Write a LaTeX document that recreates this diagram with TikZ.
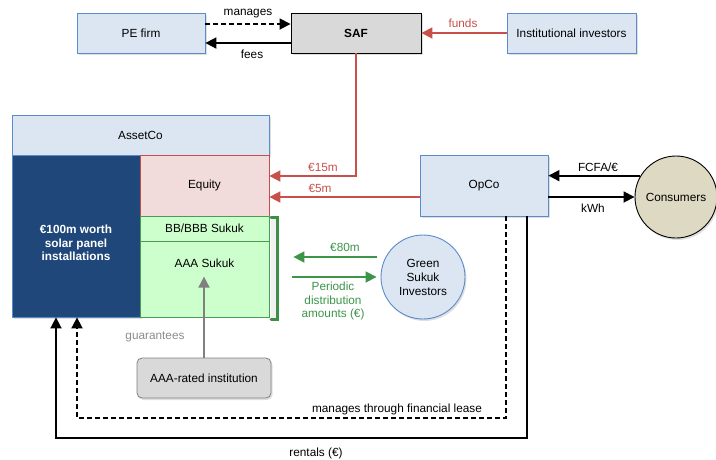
\documentclass[tikz,border=0pt]{standalone}
\usepackage{fontspec}
\setmainfont{Liberation Sans}
\usetikzlibrary{arrows.meta,shadows,calc}
\definecolor{lb}{HTML}{DCE6F2}
\definecolor{lbb}{HTML}{5B8BC9}
\definecolor{db}{HTML}{1F477A}
\definecolor{eqf}{HTML}{F2DCDB}
\definecolor{eqb}{HTML}{C0504D}
\definecolor{gf}{HTML}{CCFFCC}
\definecolor{gb}{HTML}{4B9C53}
\definecolor{gbr}{HTML}{3C8F45}
\definecolor{cons}{HTML}{DDD9C3}
\definecolor{redarr}{HTML}{C8504A}
\definecolor{grnarr}{HTML}{3C9548}
\definecolor{gtxt}{HTML}{8C8C8C}
\tikzset{
  every node/.style={font=\fontsize{11.8}{14}\selectfont, inner sep=0pt, align=center},
  shd/.style={drop shadow={opacity=0.25, shadow xshift=1.5pt, shadow yshift=-2pt}},
  bluebox/.style={draw=lbb, fill=lb, line width=0.8pt, shd},
  blk/.style={line width=1.8pt, -{Triangle[length=11pt,width=11pt]}},
  dsh/.style={dash pattern=on 5pt off 3pt},
  redl/.style={draw=redarr, line width=1.8pt, -{Triangle[length=11pt,width=11pt]}},
  grnl/.style={draw=grnarr, line width=1.8pt, -{Triangle[length=11pt,width=11pt]}},
  gryl/.style={draw=gray, line width=1.8pt, -{Triangle[length=11pt,width=11pt]}}
}
\begin{document}
\begin{tikzpicture}[x=1pt,y=-1pt]
\useasboundingbox (0,0) rectangle (716,459);
% top row
\node[bluebox, minimum width=128pt, minimum height=40pt] (pe) at (141,33) {PE firm};
\node[draw=black, fill=black!15, line width=0.9pt, shd, minimum width=130pt, minimum height=40pt, font=\fontsize{11.8}{14}\selectfont\bfseries] (saf) at (356,33) {SAF};
\node[bluebox, minimum width=129pt, minimum height=40pt] (inst) at (571.5,33) {Institutional investors};
% AssetCo
\node[bluebox, minimum width=257pt, minimum height=40pt] (asset) at (140.5,135) {AssetCo};
\node[draw=lbb, fill=db, line width=0.8pt, shd, minimum width=128pt, minimum height=162pt] (solar) at (76,236) {};
\node[text=white, font=\fontsize{11.8}{13.5}\selectfont\bfseries] (solartxt) at (76,243) {€100m worth\\solar panel\\installations};
\node[draw=eqb, fill=eqf, line width=0.8pt, minimum width=129pt, minimum height=61pt] (equity) at (204.5,185.5) {Equity};
\node[draw=gb, fill=gf, line width=0.8pt, minimum width=129pt, minimum height=25pt] (bb) at (204.5,228.5) {BB/BBB Sukuk};
\node[draw=gb, fill=gf, line width=0.8pt, minimum width=129pt, minimum height=76pt] (aaa) at (204.5,279) {};
\node (aaatxt) at (204.5,263) {AAA Sukuk};
\draw[draw=gbr, line width=3pt, line cap=round, fill=black!5] (271,217) -- (277,217) -- (277,319) -- (271,319);
% OpCo and consumers
\node[bluebox, minimum width=128pt, minimum height=61pt] (opco) at (484,185.5) {OpCo};
\node[circle, draw=black, fill=cons, line width=0.9pt, shd, minimum size=82pt] (cons) at (676,197) {Consumers};
\node[circle, draw=lbb, fill=lb, line width=0.9pt, shd, minimum size=84pt] (gsi) at (423,277) {Green\\Sukuk\\Investors};
\node[draw=gray, fill=black!15, line width=0.8pt, rounded corners=5pt, shd, minimum width=134pt, minimum height=40pt] (aaainst) at (204,378) {AAA-rated institution};
% top arrows
\draw[blk, dsh] (pe.east |- 0,24) -- (saf.west |- 0,24);
\node (lmanages) at (248,14) {manages};
\draw[blk] (saf.west |- 0,43) -- (pe.east |- 0,43);
\node (lfees) at (252,54) {fees};
\draw[redl] (inst.west) -- (saf.east);
\node[text=redarr] (lfunds) at (463,23) {funds};
% to equity
\draw[redl] (saf.south) |- (equity.east |- 0,176);
\node[text=redarr] (l15) at (323,167) {€15m};
\draw[redl] (opco.west |- 0,197) -- (equity.east |- 0,197);
\node[text=redarr] (l5) at (320,188) {€5m};
% consumers
\draw[blk] (cons.149) -- (opco.east |- cons.149);
\node (lfcfa) at (598,167) {FCFA/€};
\draw[blk] (opco.east |- cons.west) -- (cons.west);
\node (lkwh) at (593,208) {kWh};
% green sukuk
\draw[grnl] ($(gsi.west)+(-4,-20)$) -- ($(aaa.east)+(24,-22)$);
\node[text=grnarr] (l80) at (345,247) {€80m};
\draw[grnl] ($(aaa.east)+(23,-2)$) -- ($(gsi.west)+(-4,0)$);
\node[text=grnarr, font=\fontsize{11.8}{13.5}\selectfont] (lper) at (333,301) {Periodic\\distribution\\amounts (€)};
% guarantees
\draw[gryl] (aaainst.north) -- ++(0,-81);
\node[text=gtxt] (lguar) at (155,337) {guarantees};
% lease and rentals
\draw[blk, dsh] (opco.south -| 506,0) -- (506,418) -- (77,418) -- (solar.south -| 77,0);
\node (llease) at (397,409) {manages through financial lease};
\draw[blk] (opco.south -| 527,0) -- (527,438) -- (56,438) -- (solar.south -| 56,0);
\node (lrent) at (316,453) {rentals (€)};
\end{tikzpicture}
\end{document}
